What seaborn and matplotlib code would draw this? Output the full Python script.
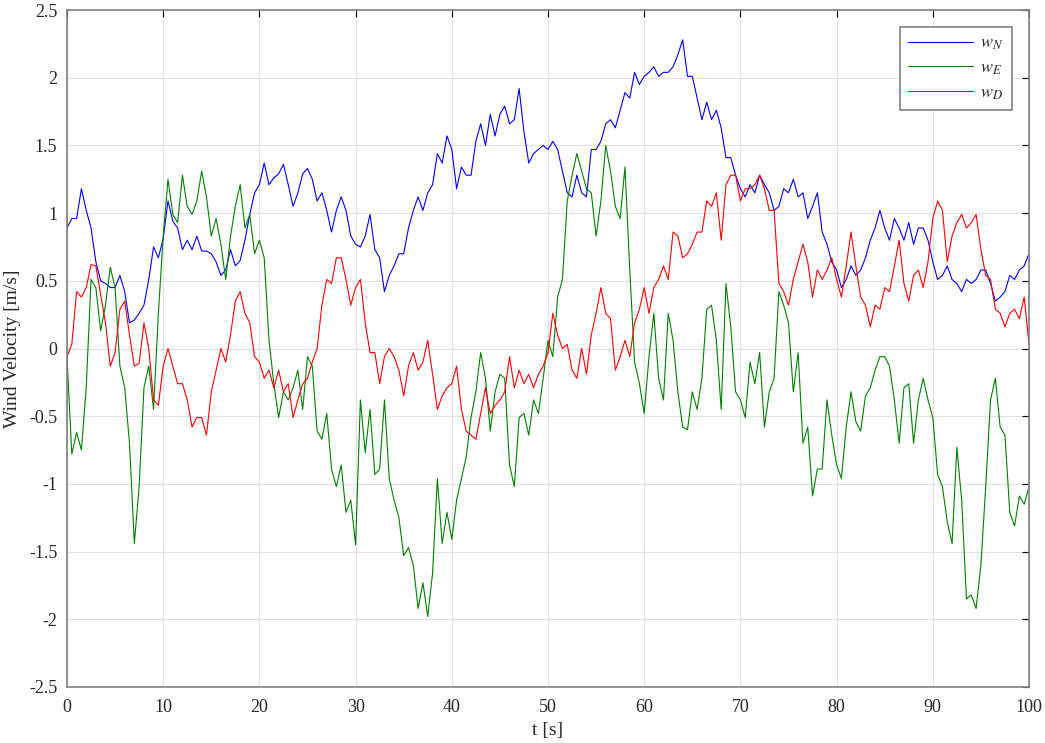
import numpy as np
import pandas as pd
import matplotlib
matplotlib.use("Agg")
import matplotlib.pyplot as plt
import seaborn as sns

# time axis, 0.5 s sampling of the values
t = np.arange(0, 100.5, 0.5)

w_n = [
    0.89, 0.96, 0.96, 1.18, 1.02, 0.89, 0.64, 0.50, 0.48, 0.45, 0.45, 0.54, 0.42,
    0.19, 0.21, 0.26, 0.32, 0.51, 0.75, 0.67, 0.81, 1.09, 0.94, 0.89, 0.73, 0.80,
    0.73, 0.83, 0.72, 0.72, 0.70, 0.64, 0.54, 0.58, 0.73, 0.61, 0.65, 0.80, 0.99,
    1.15, 1.21, 1.37, 1.21, 1.26, 1.29, 1.36, 1.21, 1.05, 1.15, 1.29, 1.33, 1.25,
    1.09, 1.15, 1.02, 0.86, 1.02, 1.12, 1.02, 0.83, 0.77, 0.75, 0.83, 0.99, 0.73,
    0.67, 0.42, 0.54, 0.61, 0.70, 0.70, 0.89, 1.02, 1.12, 1.02, 1.15, 1.21, 1.44,
    1.37, 1.57, 1.47, 1.18, 1.34, 1.28, 1.28, 1.53, 1.66, 1.50, 1.73, 1.57, 1.73,
    1.79, 1.66, 1.69, 1.92, 1.60, 1.37, 1.44, 1.47, 1.50, 1.47, 1.53, 1.47, 1.31,
    1.15, 1.12, 1.28, 1.15, 1.12, 1.47, 1.47, 1.53, 1.66, 1.69, 1.63, 1.76, 1.89,
    1.85, 2.04, 1.95, 2.01, 2.04, 2.08, 2.01, 2.04, 2.04, 2.08, 2.17, 2.28, 2.01,
    2.01, 1.85, 1.69, 1.82, 1.69, 1.76, 1.63, 1.41, 1.41, 1.28, 1.18, 1.12, 1.21,
    1.15, 1.28, 1.21, 1.15, 1.02, 1.05, 1.18, 1.15, 1.25, 1.12, 1.15, 0.96, 1.05,
    1.15, 0.86, 0.77, 0.64, 0.58, 0.45, 0.51, 0.61, 0.54, 0.58, 0.67, 0.80, 0.89,
    1.02, 0.89, 0.80, 0.96, 0.89, 0.80, 0.93, 0.77, 0.89, 0.89, 0.80, 0.64, 0.51,
    0.54, 0.61, 0.51, 0.48, 0.42, 0.51, 0.48, 0.51, 0.58, 0.58, 0.48, 0.35, 0.38,
    0.42, 0.54, 0.51, 0.58, 0.61, 0.70,
]

w_e = [
    -0.06, -0.78, -0.62, -0.75, -0.29, 0.51, 0.45, 0.13, 0.32, 0.60, 0.45, -0.13, -0.29,
    -0.70, -1.44, -1.02, -0.29, -0.13, -0.45, 0.26, 0.83, 1.25, 0.99, 0.93, 1.28, 1.05,
    0.99, 1.09, 1.31, 1.12, 0.83, 0.96, 0.77, 0.51, 0.83, 1.05, 1.21, 0.89, 0.99,
    0.70, 0.80, 0.67, 0.06, -0.26, -0.51, -0.32, -0.38, -0.29, -0.16, -0.45, -0.06, -0.13,
    -0.61, -0.67, -0.48, -0.89, -1.02, -0.86, -1.21, -1.12, -1.45, -0.38, -0.77, -0.45, -0.93,
    -0.89, -0.38, -0.96, -1.12, -1.25, -1.53, -1.47, -1.60, -1.92, -1.73, -1.98, -1.66, -0.96,
    -1.44, -1.21, -1.41, -1.12, -0.96, -0.80, -0.51, -0.32, -0.03, -0.22, -0.61, -0.32, -0.19,
    -0.22, -0.86, -1.02, -0.51, -0.48, -0.64, -0.38, -0.48, -0.22, 0.06, -0.06, 0.38, 0.51,
    1.09, 1.28, 1.44, 1.31, 1.18, 1.15, 0.83, 1.09, 1.50, 1.31, 1.05, 0.96, 1.34,
    0.58, -0.10, -0.26, -0.48, -0.06, 0.26, -0.22, -0.38, 0.26, 0.06, -0.32, -0.58, -0.60,
    -0.32, -0.45, -0.22, 0.29, 0.32, 0.06, -0.45, 0.48, 0.16, -0.32, -0.38, -0.51, -0.10,
    -0.26, -0.03, -0.58, -0.32, -0.22, 0.42, 0.32, 0.19, -0.32, -0.03, -0.70, -0.58, -1.09,
    -0.89, -0.89, -0.38, -0.64, -0.86, -0.96, -0.58, -0.32, -0.54, -0.61, -0.35, -0.29, -0.16,
    -0.06, -0.06, -0.13, -0.38, -0.70, -0.29, -0.26, -0.70, -0.38, -0.22, -0.38, -0.51, -0.93,
    -1.02, -1.28, -1.44, -0.73, -1.12, -1.85, -1.82, -1.92, -1.60, -1.02, -0.38, -0.22, -0.58,
    -0.64, -1.21, -1.31, -1.09, -1.15, -1.02,
]

w_d = [
    -0.06, 0.03, 0.42, 0.38, 0.45, 0.62, 0.61, 0.40, 0.19, -0.13, -0.03, 0.29, 0.35,
    0.10, -0.13, -0.11, 0.19, 0.00, -0.38, -0.42, -0.13, 0.00, -0.13, -0.26, -0.26, -0.38,
    -0.58, -0.51, -0.51, -0.64, -0.32, -0.16, 0.00, -0.10, 0.10, 0.35, 0.42, 0.26, 0.19,
    -0.06, -0.10, -0.22, -0.16, -0.29, -0.16, -0.32, -0.26, -0.51, -0.38, -0.26, -0.22, -0.10,
    0.00, 0.32, 0.51, 0.48, 0.67, 0.67, 0.51, 0.32, 0.45, 0.51, 0.19, -0.03, -0.03,
    -0.26, -0.06, 0.00, -0.06, -0.16, -0.35, -0.13, -0.03, -0.16, -0.10, 0.06, -0.19, -0.45,
    -0.35, -0.29, -0.26, -0.13, -0.45, -0.61, -0.64, -0.67, -0.48, -0.29, -0.48, -0.42, -0.38,
    -0.32, -0.06, -0.29, -0.16, -0.26, -0.19, -0.29, -0.19, -0.13, -0.03, 0.26, 0.10, 0.00,
    0.03, -0.16, -0.22, 0.00, -0.19, 0.10, 0.26, 0.45, 0.26, 0.22, -0.16, -0.06, 0.06,
    -0.06, 0.19, 0.29, 0.45, 0.26, 0.45, 0.51, 0.61, 0.51, 0.86, 0.83, 0.67, 0.70,
    0.77, 0.86, 0.86, 1.09, 1.05, 1.15, 0.80, 1.21, 1.28, 1.28, 1.09, 1.18, 1.18,
    1.21, 1.28, 1.18, 1.02, 1.02, 0.48, 0.42, 0.32, 0.51, 0.64, 0.77, 0.64, 0.38,
    0.58, 0.51, 0.58, 0.67, 0.51, 0.38, 0.61, 0.86, 0.61, 0.38, 0.32, 0.16, 0.32,
    0.29, 0.45, 0.42, 0.61, 0.80, 0.48, 0.35, 0.54, 0.58, 0.45, 0.64, 0.96, 1.09,
    1.02, 0.64, 0.83, 0.93, 0.99, 0.89, 0.93, 0.99, 0.73, 0.54, 0.51, 0.29, 0.26,
    0.16, 0.26, 0.29, 0.22, 0.38, 0.03,
]

series_names = ["$w_N$", "$w_E$", "$w_D$"]
series_colors = ["#0000ff", "#008000", "#ff0000"]

df = pd.concat([
    pd.DataFrame({"t": t, "w": vals, "comp": name})
    for name, vals in zip(series_names, [w_n, w_e, w_d])
])

sns.set_style("whitegrid")
plt.rcParams["font.family"] = ["Liberation Serif", "DejaVu Serif"]
plt.rcParams["mathtext.fontset"] = "stix"
plt.rcParams["axes.unicode_minus"] = False

fig = plt.figure(figsize=(10.45, 7.43), dpi=100)
ax = fig.add_axes([0.0641, 0.0754, 0.9206, 0.9111])

sns.lineplot(data=df, x="t", y="w", hue="comp",
             palette=dict(zip(series_names, series_colors)),
             linewidth=0.8, ax=ax)

ax.set_xlim(0, 100)
ax.set_ylim(-2.5, 2.5)
ax.set_xticks(np.arange(0, 101, 10))
yt = np.arange(-2.5, 2.51, 0.5)
ax.set_yticks(yt)
ax.set_yticklabels([f"{v:g}" for v in yt])
ax.tick_params(axis="both", direction="in", length=5, width=0.8, color="black",
               labelsize=13, top=True, right=True)
ax.tick_params(axis="x", pad=9)
ax.tick_params(axis="y", pad=7)
ax.grid(True, color="#e0e0e0", linewidth=0.8)
for sp in ax.spines.values():
    sp.set_color("#7f7f7f")
    sp.set_linewidth(1.2)

ax.set_xlabel("t [s]", fontsize=14, labelpad=4)
ax.set_ylabel("Wind Velocity [m/s]", fontsize=14, labelpad=6)

leg = ax.legend(loc="upper right", bbox_to_anchor=(0.982, 0.975), borderaxespad=0,
                fontsize=13, handlelength=3.6, frameon=True, fancybox=False,
                borderpad=0.45, labelspacing=0.4, handletextpad=0.4)
leg.get_frame().set_edgecolor("#7f7f7f")
leg.get_frame().set_linewidth(1.2)
leg.get_frame().set_alpha(1)

fig.savefig("out.png", dpi=100)
